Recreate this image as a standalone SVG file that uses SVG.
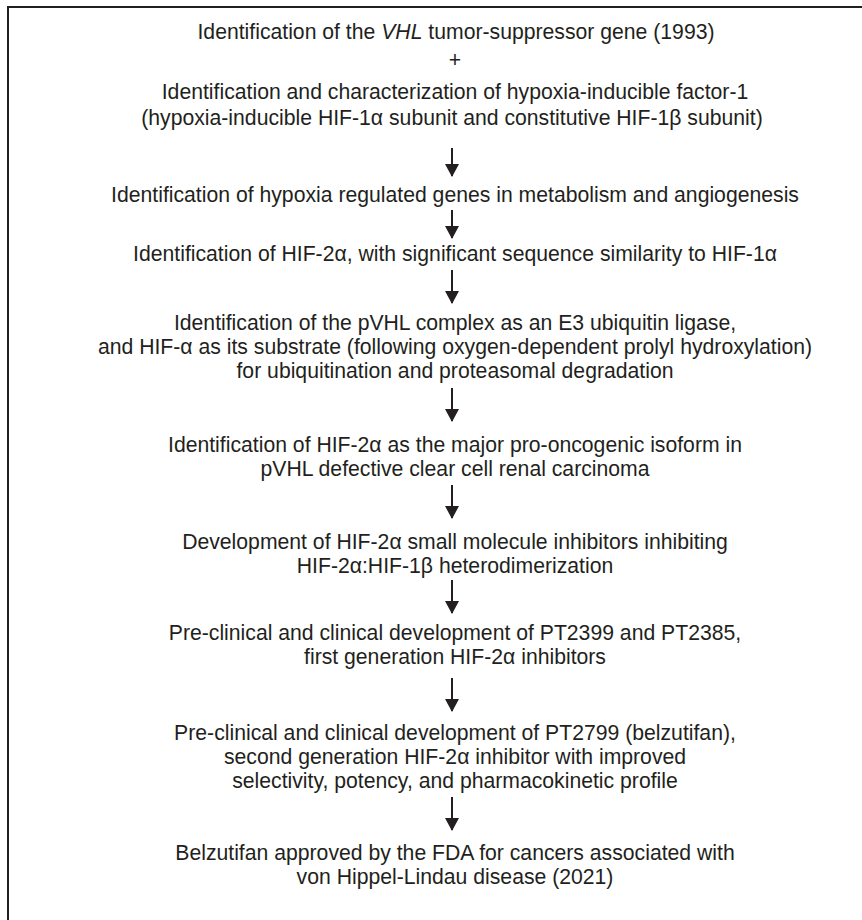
<svg xmlns="http://www.w3.org/2000/svg" width="862" height="920" viewBox="0 0 862 920">
<defs>
<style>
text{font-family:"Liberation Sans",Arial,sans-serif;font-size:21.2px;fill:#231f20;text-anchor:middle}
.ln{stroke:#231f20;stroke-width:2;fill:none}
.hd{fill:#231f20;stroke:none}
</style>
<marker id="ah" viewBox="0 0 13 14" refX="12" refY="7" markerWidth="13" markerHeight="14" markerUnits="userSpaceOnUse" orient="auto">
<path d="M0,0 L13,7 L0,14 Z" class="hd"/>
</marker>
</defs>
<rect width="862" height="920" fill="#fff"/>
<path class="ln" d="M8,930 V7 H870" stroke-width="2.5"/>
<g id="n1"><text x="456" y="39">Identification of the <tspan font-style="italic">VHL</tspan> tumor-suppressor gene (1993)</text></g>
<g id="plus"><text x="455" y="67">+</text></g>
<g id="n2"><text x="455" y="99">Identification and characterization of hypoxia-inducible factor-1</text><text x="452" y="125">(hypoxia-inducible HIF-1α subunit and constitutive HIF-1β subunit)</text></g>
<g id="n3"><text x="455" y="202">Identification of hypoxia regulated genes in metabolism and angiogenesis</text></g>
<g id="n4"><text x="455" y="261">Identification of HIF-2α, with significant sequence similarity to HIF-1α</text></g>
<g id="n5"><text x="455" y="330">Identification of the pVHL complex as an E3 ubiquitin ligase,</text><text x="455" y="354">and HIF-α as its substrate (following oxygen-dependent prolyl hydroxylation)</text><text x="455" y="378">for ubiquitination and proteasomal degradation</text></g>
<g id="n6"><text x="455" y="452">Identification of HIF-2α as the major pro-oncogenic isoform in</text><text x="455" y="476">pVHL defective clear cell renal carcinoma</text></g>
<g id="n7"><text x="455" y="549">Development of HIF-2α small molecule inhibitors inhibiting</text><text x="455" y="573">HIF-2α:HIF-1β heterodimerization</text></g>
<g id="n8"><text x="455" y="640">Pre-clinical and clinical development of PT2399 and PT2385,</text><text x="455" y="664">first generation HIF-2α inhibitors</text></g>
<g id="n9"><text x="455" y="740">Pre-clinical and clinical development of PT2799 (belzutifan),</text><text x="455" y="764">second generation HIF-2α inhibitor with improved</text><text x="455" y="788">selectivity, potency, and pharmacokinetic profile</text></g>
<g id="n10"><text x="455" y="860">Belzutifan approved by the FDA for cancers associated with</text><text x="455" y="884">von Hippel-Lindau disease (2021)</text></g>
<g id="connectors" class="ln">
<path d="M452,148 V176" marker-end="url(#ah)"/>
<path d="M452,210 V238" marker-end="url(#ah)"/>
<path d="M452,270 V303" marker-end="url(#ah)"/>
<path d="M452,388 V421" marker-end="url(#ah)"/>
<path d="M452,485 V518" marker-end="url(#ah)"/>
<path d="M452,580 V613" marker-end="url(#ah)"/>
<path d="M452,678 V711" marker-end="url(#ah)"/>
<path d="M452,797 V830" marker-end="url(#ah)"/>
</g>
</svg>
